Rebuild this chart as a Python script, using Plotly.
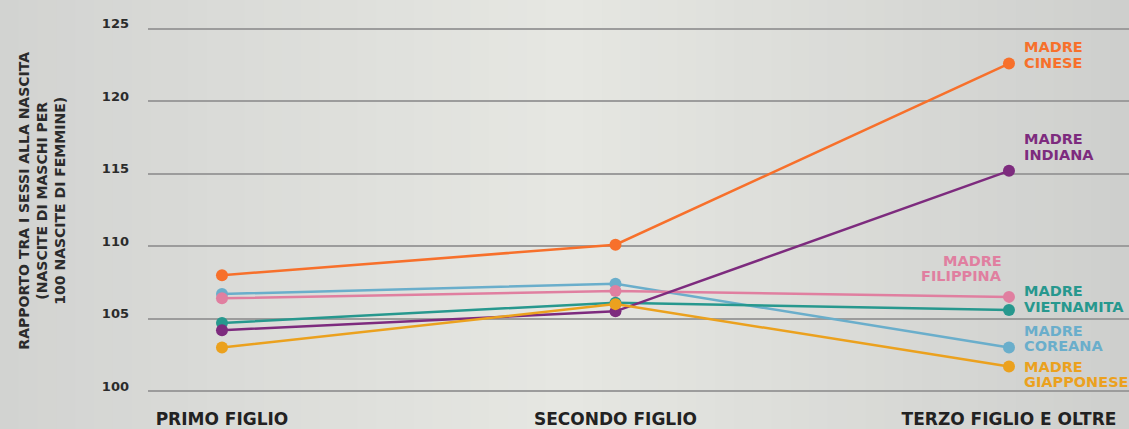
import plotly.graph_objects as go

categories = ["PRIMO FIGLIO", "SECONDO FIGLIO", "TERZO FIGLIO E OLTRE"]
series_names = ["COREANA", "FILIPPINA", "VIETNAMITA", "INDIANA", "GIAPPONESE", "CINESE"]
coreana = [106.7, 107.4, 103.0]
filippina = [106.4, 106.9, 106.5]
vietnamita = [104.7, 106.1, 105.6]
indiana = [104.2, 105.5, 115.2]
giapponese = [103.0, 106.0, 101.7]
cinese = [108.0, 110.1, 122.6]
y_ticks = [100, 105, 110, 115, 120, 125]

colors = ["#6aaecb", "#e07fa0", "#27988e", "#7d2b7e", "#eba11e", "#f7702b"]
values = [coreana, filippina, vietnamita, indiana, giapponese, cinese]
# label placement in pixels (style only): (xanchor, xshift, yshift of "MADRE", yshift of name)
label_style = [
    ("left", 13, 17, 2),     # coreana
    ("right", -5, 36, 21),   # filippina
    ("left", 13, 19, 3),     # vietnamita
    ("left", 13, 32, 16),    # indiana
    ("left", 13, -1, -16),   # giapponese
    ("left", 13, 17, 1),     # cinese
]

FONT = "DejaVu Sans"

fig = go.Figure()
for name, vals, col in zip(series_names, values, colors):
    fig.add_trace(go.Scatter(
        x=[0, 1, 2], y=vals, mode="lines+markers", name=name,
        line=dict(color=col, width=2.5),
        marker=dict(color=col, size=12),
        showlegend=False, hoverinfo="skip"))

annotations = []
for name, vals, col, st in zip(series_names, values, colors, label_style):
    xa, xs, ys1, ys2 = st
    for txt, ys in (("MADRE", ys1), (name, ys2)):
        annotations.append(dict(
            x=2, y=vals[-1], xref="x", yref="y", text="<b>" + txt + "</b>",
            showarrow=False, xanchor=xa, yanchor="middle", xshift=xs, yshift=ys,
            font=dict(family=FONT, size=14.5, color=col)))

annotations.append(dict(
    x=-0.109, y=0.52, xref="paper", yref="paper",
    text="<b>RAPPORTO TRA I SESSI ALLA NASCITA<br>(NASCITE DI MASCHI PER<br>100 NASCITE DI FEMMINE)</b>",
    textangle=-90, showarrow=False, align="center", xanchor="center", yanchor="middle",
    font=dict(family=FONT, size=14, color="#2b2b2b")))

# background gradient (style)
shapes = []
n = 60
def lerp(a, b, t):
    return tuple(int(round(a[i] + (b[i] - a[i]) * t)) for i in range(3))
left_c = (210, 211, 209)
mid_c = (230, 231, 226)
right_c = (206, 207, 205)
for i in range(n):
    t = (i + 0.5) / n
    if t < 0.5:
        c = lerp(left_c, mid_c, t / 0.5)
    else:
        c = lerp(mid_c, right_c, (t - 0.5) / 0.5)
    x0 = i / n
    x1 = (i + 1) / n + 0.002
    shapes.append(dict(type="rect", xref="paper", yref="paper",
                       x0=-0.151 + x0 * 1.151, x1=-0.151 + x1 * 1.151, y0=-0.06, y1=1.03,
                       fillcolor="rgb(%d,%d,%d)" % c, line=dict(width=0), layer="below"))

fig.update_layout(
    width=1129, height=429,
    margin=dict(l=148, r=0, t=10, b=20),
    paper_bgcolor="#dcdcda",
    plot_bgcolor="rgba(0,0,0,0)",
    shapes=shapes,
    annotations=annotations,
    xaxis=dict(
        range=[-0.188, 2.305], tickvals=[0, 1, 2],
        ticktext=["<b>" + c + "</b>" for c in categories],
        showgrid=False, zeroline=False, showline=False, ticks="",
        tickfont=dict(family=FONT, size=17, color="#222222")),
    yaxis=dict(
        range=[98.9, 126.3], tickvals=y_ticks,
        ticktext=["<b>%d</b>" % v for v in y_ticks],
        showgrid=True, gridcolor="#9c9c9c", gridwidth=2, zeroline=False,
        showline=False, ticks="", ticklabelstandoff=18, ticklabelshift=-5,
        tickfont=dict(family=FONT, size=13, color="#2b2b2b")),
)

fig.write_html("out.html", config={"displayModeBar": False},
               post_script="document.body.style.margin='0';document.body.style.overflow='hidden';")
